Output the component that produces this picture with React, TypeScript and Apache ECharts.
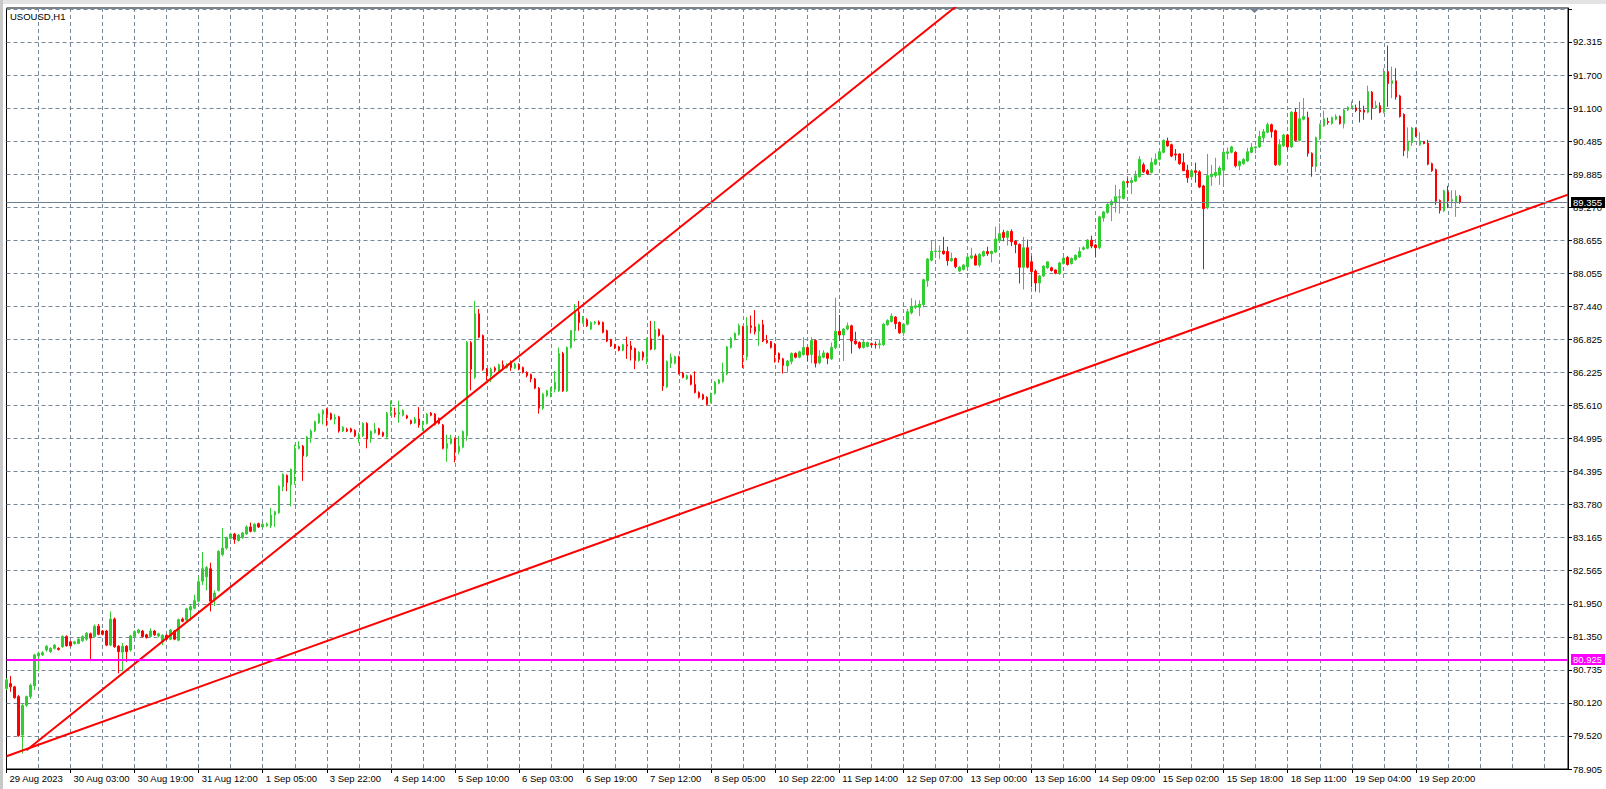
import React, { useEffect, useRef } from "react";
import * as echarts from "echarts";

const SYMBOL_TITLE = "USOUSD,H1";

// x axis: one slot per H1 bar (incl. empty right shift area)
const SLOT_COUNT = 391;
const BARS_PER_LABEL = 16;
const BARS_PER_GRID = 8;
const xTickLabels = [
  "29 Aug 2023", "30 Aug 03:00", "30 Aug 19:00", "31 Aug 12:00", "1 Sep 05:00",
  "3 Sep 22:00", "4 Sep 14:00", "5 Sep 10:00", "6 Sep 03:00", "6 Sep 19:00",
  "7 Sep 12:00", "8 Sep 05:00", "10 Sep 22:00", "11 Sep 14:00", "12 Sep 07:00",
  "13 Sep 00:00", "13 Sep 16:00", "14 Sep 09:00", "15 Sep 02:00", "15 Sep 18:00",
  "18 Sep 11:00", "19 Sep 04:00", "19 Sep 20:00",
];

// y axis
const yTickLabels = [
  "78.905", "79.520", "80.120", "80.735", "81.350", "81.950", "82.565", "83.165",
  "83.780", "84.395", "84.995", "85.610", "86.225", "86.825", "87.440", "88.055",
  "88.655", "89.270", "89.885", "90.485", "91.100", "91.700", "92.315",
];
const Y_MIN = 78.905;
const Y_TOP_TICK = 92.315;
const Y_MAX = 92.942;

// horizontal levels
const supportLevel = 80.925;
const lastPrice = 89.355;

// trend lines: [bar index, price]
const steepTrend = [[5, 79.25], [240, 93.14]];
const shallowTrend = [[0, 79.14], [390, 89.5]];

// candles: [open, close, low, high]
const candles = [
  [80.39,80.55,80.36,80.58],[80.48,80.42,80.33,80.62],[80.42,80.22,80.20,80.44],[80.24,79.52,79.50,80.27],
  [79.53,80.08,79.19,80.10],[80.08,80.24,80.05,80.26],[80.24,80.45,80.20,80.48],[80.44,81.01,80.36,81.03],
  [80.99,81.04,80.71,81.07],[81.01,81.05,80.99,81.08],[81.10,81.17,81.07,81.19],[81.07,81.13,81.05,81.15],
  [81.13,81.19,81.11,81.21],[81.13,81.11,81.09,81.15],[81.16,81.35,81.14,81.37],[81.35,81.18,81.16,81.37],
  [81.25,81.18,81.16,81.27],[81.22,81.25,81.20,81.27],[81.22,81.30,81.21,81.32],[81.27,81.35,81.25,81.37],
  [81.30,81.41,81.27,81.43],[81.40,81.32,80.93,81.42],[81.35,81.54,81.33,81.57],[81.54,81.39,81.37,81.58],
  [81.45,81.39,81.37,81.47],[81.45,81.19,81.17,81.47],[81.19,81.67,81.17,81.81],[81.67,81.16,81.14,81.70],
  [81.17,81.07,80.67,81.19],[81.06,81.17,80.71,81.23],[81.17,81.07,80.88,81.19],[81.10,81.36,81.07,81.38],
  [81.35,81.44,81.33,81.46],[81.42,81.47,81.40,81.49],[81.45,81.35,81.33,81.47],[81.38,81.33,81.31,81.40],
  [81.35,81.45,81.33,81.50],[81.45,81.38,81.36,81.47],[81.36,81.40,81.33,81.42],[81.25,81.37,81.19,81.39],
  [81.37,81.30,81.28,81.39],[81.30,81.47,81.28,81.49],[81.45,81.30,81.28,81.47],[81.28,81.66,81.26,81.68],
  [81.67,81.63,81.61,81.70],[81.65,81.86,81.63,81.88],[81.84,81.90,81.64,81.93],[81.87,82.01,81.85,82.12],
  [82.00,82.36,81.98,82.45],[82.37,82.60,82.30,82.91],[82.45,82.62,82.20,82.65],[82.60,82.00,81.81,82.71],
  [82.03,82.15,81.91,82.20],[82.20,82.92,82.18,82.94],[82.86,82.98,82.83,83.35],[82.98,83.17,82.95,83.19],
  [83.16,83.24,83.14,83.26],[83.24,83.14,83.06,83.26],[83.12,83.22,83.10,83.24],[83.17,83.26,83.15,83.28],
  [83.24,83.37,83.22,83.40],[83.37,83.29,83.27,83.45],[83.29,83.42,83.27,83.44],[83.43,83.37,83.35,83.45],
  [83.37,83.42,83.35,83.44],[83.39,83.43,83.37,83.45],[83.39,83.59,83.35,83.72],[83.59,83.65,83.37,83.67],
  [83.63,84.12,83.61,84.14],[84.11,84.34,84.03,84.36],[84.32,84.19,84.03,84.34],[84.15,84.43,83.75,84.45],
  [84.43,84.82,84.15,84.89],[84.82,84.86,84.80,84.95],[84.86,84.68,84.22,84.88],[84.68,85.03,84.66,85.05],
  [85.02,85.14,84.92,85.17],[85.14,85.31,85.12,85.33],[85.29,85.45,85.27,85.47],[85.45,85.52,85.26,85.54],
  [85.54,85.45,85.23,85.56],[85.46,85.36,85.34,85.48],[85.36,85.39,85.26,85.45],[85.40,85.14,85.11,85.42],
  [85.14,85.21,85.12,85.23],[85.17,85.14,85.12,85.20],[85.18,85.13,85.11,85.20],[85.15,85.05,85.03,85.17],
  [85.03,85.07,84.92,85.11],[85.05,85.28,85.03,85.30],[85.28,84.99,84.82,85.30],[85.00,85.13,84.92,85.15],
  [85.11,85.17,85.09,85.29],[85.18,85.08,85.06,85.20],[85.11,85.05,85.03,85.13],[85.03,85.47,84.99,85.49],
  [85.44,85.48,85.42,85.70],[85.47,85.45,85.39,85.57],[85.45,85.48,85.29,85.70],[85.43,85.52,85.41,85.54],
  [85.42,85.38,85.36,85.44],[85.33,85.28,85.26,85.35],[85.29,85.36,85.27,85.40],[85.36,85.25,85.20,85.58],
  [85.26,85.31,85.14,85.33],[85.28,85.45,85.26,85.47],[85.47,85.43,85.41,85.49],[85.45,85.26,85.24,85.47],
  [85.37,85.28,85.26,85.39],[85.25,84.82,84.80,85.27],[84.82,84.91,84.57,85.07],[84.91,84.99,84.89,85.07],
  [85.00,84.76,84.56,85.02],[84.76,84.86,84.71,85.05],[84.84,85.13,84.82,85.15],[85.05,86.77,84.96,86.80],
  [86.77,86.28,85.89,86.80],[86.13,87.30,86.10,87.54],[87.30,86.87,86.85,87.39],[86.90,86.28,86.25,86.92],
  [86.28,86.16,86.07,86.30],[86.16,86.28,86.04,86.31],[86.30,86.26,86.22,86.33],[86.22,86.36,86.20,86.38],
  [86.36,86.33,86.26,86.44],[86.31,86.37,86.29,86.39],[86.39,86.31,86.25,86.44],[86.30,86.37,86.28,86.40],
  [86.37,86.28,86.26,86.39],[86.31,86.22,86.20,86.33],[86.22,86.16,86.13,86.24],[86.18,86.10,86.04,86.20],
  [86.10,85.93,85.91,86.12],[85.93,85.56,85.46,85.95],[85.56,85.82,85.53,85.84],[85.79,85.88,85.77,85.90],
  [85.87,85.93,85.76,85.95],[85.91,86.04,85.85,86.25],[85.88,86.57,85.86,86.68],[86.57,85.88,85.86,86.60],
  [85.88,86.68,85.86,86.70],[86.68,86.99,86.66,87.00],[86.99,87.33,86.79,87.48],[87.33,87.14,86.99,87.54],
  [87.14,87.24,87.12,87.26],[87.19,87.08,87.06,87.22],[87.02,87.14,87.00,87.16],[87.13,87.15,87.10,87.17],
  [87.15,87.11,87.09,87.18],[87.14,86.96,86.94,87.16],[86.99,86.80,86.78,87.01],[86.82,86.71,86.69,86.84],
  [86.73,86.67,86.65,86.75],[86.69,86.63,86.61,86.71],[86.63,86.73,86.61,86.75],[86.73,86.71,86.47,86.88],
  [86.71,86.64,86.44,86.80],[86.66,86.44,86.28,86.68],[86.44,86.59,86.42,86.61],[86.59,86.50,86.44,86.61],
  [86.50,86.84,86.37,86.86],[86.84,86.65,86.63,87.17],[86.65,87.01,86.63,87.17],[87.01,86.90,86.88,87.03],
  [86.90,85.97,85.88,86.92],[85.95,86.42,85.93,86.44],[86.39,86.50,86.30,86.57],[86.39,86.51,86.37,86.53],
  [86.51,86.20,86.18,86.53],[86.21,86.13,86.11,86.23],[86.10,86.16,86.08,86.18],[86.16,86.00,85.98,86.18],
  [86.00,85.85,85.83,86.24],[85.85,85.76,85.74,85.87],[85.81,85.73,85.71,85.83],[85.76,85.63,85.61,85.78],
  [85.67,85.83,85.65,85.85],[85.83,86.04,85.81,86.06],[86.02,86.08,86.00,86.10],[86.05,86.20,86.03,86.40],
  [86.19,86.69,86.17,86.71],[86.68,86.85,86.66,86.87],[86.84,86.94,86.81,86.96],[86.92,87.08,86.90,87.12],
  [87.06,86.55,86.30,87.08],[86.51,87.08,86.44,87.24],[87.08,87.05,86.94,87.27],[87.06,86.97,86.92,87.37],
  [86.98,87.10,86.71,87.12],[87.10,86.80,86.78,87.19],[86.81,86.77,86.75,86.91],[86.79,86.68,86.66,86.80],
  [86.74,86.55,86.40,86.76],[86.57,86.46,86.40,86.59],[86.47,86.35,86.20,86.49],[86.34,86.43,86.22,86.45],
  [86.42,86.57,86.37,86.59],[86.57,86.50,86.48,86.59],[86.50,86.60,86.48,86.62],[86.55,86.68,86.53,86.87],
  [86.68,86.54,86.43,86.70],[86.55,86.81,86.39,86.87],[86.81,86.39,86.31,86.83],[86.40,86.52,86.37,86.63],
  [86.50,86.58,86.48,86.63],[86.57,86.48,86.37,86.59],[86.47,86.68,86.45,86.77],[86.68,86.98,86.65,87.60],
  [86.98,86.91,86.80,87.28],[86.91,87.02,86.43,87.04],[87.02,87.08,87.00,87.14],[87.08,86.80,86.57,87.10],
  [86.80,86.75,86.73,86.97],[86.77,86.68,86.65,86.79],[86.68,86.78,86.66,86.83],[86.70,86.77,86.68,86.79],
  [86.75,86.73,86.68,86.77],[86.74,86.73,86.66,86.79],[86.73,86.75,86.66,86.83],[86.73,87.11,86.71,87.13],
  [87.10,87.18,87.08,87.20],[87.16,87.26,87.14,87.31],[87.24,87.12,87.02,87.26],[87.14,86.95,86.93,87.16],
  [86.95,87.11,86.89,87.13],[87.11,87.34,87.09,87.39],[87.32,87.43,87.29,87.59],[87.42,87.45,87.39,87.55],
  [87.42,87.48,87.26,87.55],[87.47,87.93,87.42,87.95],[87.91,88.31,87.80,88.33],[88.29,88.45,88.27,88.66],
  [88.45,88.46,88.33,88.66],[88.45,88.46,88.31,88.56],[88.46,88.41,88.39,88.72],[88.45,88.28,88.19,88.54],
  [88.28,88.32,88.26,88.43],[88.32,88.17,88.14,88.34],[88.09,88.16,88.07,88.18],[88.12,88.20,88.10,88.22],
  [88.17,88.35,88.15,88.37],[88.33,88.37,88.31,88.52],[88.37,88.20,88.19,88.41],[88.20,88.40,88.16,88.42],
  [88.37,88.45,88.35,88.47],[88.45,88.41,88.37,88.54],[88.41,88.45,88.25,88.47],[88.44,88.68,88.42,88.91],
  [88.65,88.78,88.64,88.97],[88.80,88.71,88.64,88.85],[88.71,88.82,88.56,88.84],[88.82,88.63,88.55,88.86],
  [88.64,88.58,88.42,88.66],[88.58,88.16,87.86,88.60],[88.16,88.52,87.75,88.72],[88.52,88.16,88.14,88.67],
  [88.26,88.08,87.79,88.37],[88.09,87.87,87.71,88.12],[87.87,88.00,87.69,88.02],[88.00,88.18,87.98,88.20],
  [88.15,88.26,88.13,88.27],[88.15,88.10,88.08,88.17],[88.11,88.05,88.03,88.12],[88.04,88.24,88.02,88.26],
  [88.23,88.33,88.21,88.35],[88.34,88.21,88.19,88.37],[88.23,88.32,88.21,88.34],[88.30,88.38,88.28,88.40],
  [88.35,88.45,88.33,88.53],[88.49,88.52,88.47,88.55],[88.51,88.66,88.49,88.68],[88.66,88.55,88.51,88.74],
  [88.57,88.52,88.34,88.59],[88.52,89.09,88.49,89.11],[89.07,89.18,89.00,89.20],[89.17,89.32,89.15,89.34],
  [89.31,89.37,89.01,89.41],[89.35,89.46,89.17,89.68],[89.45,89.46,89.15,89.60],[89.43,89.74,89.41,89.76],
  [89.74,89.72,89.63,89.81],[89.72,89.76,89.51,89.82],[89.75,89.85,89.73,89.94],[89.83,90.15,89.81,90.21],
  [90.05,89.92,89.90,90.09],[89.94,89.88,89.86,89.97],[89.91,90.09,89.89,90.18],[90.06,90.15,90.04,90.26],
  [90.15,90.29,90.13,90.31],[90.28,90.50,90.26,90.52],[90.49,90.40,90.38,90.55],[90.42,90.21,90.19,90.44],
  [90.25,90.23,90.13,90.34],[90.25,90.07,90.05,90.26],[90.09,89.94,89.94,90.26],[89.95,89.81,89.72,90.05],
  [89.83,89.94,89.81,89.96],[89.94,89.91,89.72,90.09],[89.92,89.64,89.62,89.95],[89.66,89.24,88.12,89.68],
  [89.26,89.85,89.23,90.25],[89.83,89.88,89.66,90.05],[89.85,89.91,89.81,90.18],[89.86,89.99,89.68,90.03],
  [89.95,90.28,89.70,90.30],[90.26,90.29,90.15,90.37],[90.28,90.38,90.26,90.40],[90.28,90.03,90.00,90.30],
  [90.03,90.11,89.95,90.13],[90.07,90.15,90.05,90.17],[90.12,90.29,90.10,90.36],[90.28,90.37,90.26,90.45],
  [90.36,90.38,90.26,90.40],[90.38,90.57,90.36,90.68],[90.55,90.66,90.46,90.71],[90.65,90.79,90.63,90.83],
  [90.79,90.66,90.55,90.81],[90.68,90.05,90.03,90.70],[90.05,90.42,90.03,90.52],[90.40,90.60,90.38,90.62],
  [90.60,90.38,90.32,90.62],[90.38,91.02,90.36,91.04],[91.02,90.50,90.48,91.10],[90.50,90.90,90.48,91.21],
  [90.89,90.94,90.87,91.28],[90.92,90.26,90.20,91.03],[90.26,90.02,89.83,90.28],[90.02,90.55,89.92,90.57],
  [90.53,90.79,90.51,90.81],[90.77,90.90,90.75,91.05],[90.85,90.83,90.79,90.92],[90.81,90.92,90.79,90.94],
  [90.89,90.94,90.87,90.98],[90.94,90.81,90.79,90.96],[90.81,91.06,90.72,91.08],[91.06,91.11,91.04,91.13],
  [91.10,91.14,91.08,91.22],[91.10,91.05,91.02,91.16],[91.06,91.03,90.83,91.23],[91.06,91.02,90.88,91.14],
  [91.02,91.40,91.00,91.51],[91.39,91.10,90.88,91.41],[91.10,91.14,91.08,91.23],[91.14,91.02,91.00,91.20],
  [91.02,91.75,91.00,91.83],[91.77,91.55,91.12,92.25],[91.55,91.60,91.28,91.86],[91.60,91.30,91.25,91.83],
  [91.32,90.94,90.92,91.34],[90.98,90.31,90.21,91.00],[90.31,90.49,90.17,90.74],[90.46,90.73,90.40,90.75],
  [90.71,90.58,90.56,90.74],[90.42,90.49,90.40,90.65],[90.48,90.44,90.43,90.49],[90.45,90.06,90.04,90.51],
  [90.07,89.94,89.92,90.09],[89.96,89.38,89.31,89.98],[89.39,89.21,89.15,89.41],[89.20,89.57,89.18,89.59],
  [89.55,89.38,89.25,89.66],[89.38,89.41,89.25,89.58],[89.35,89.47,89.09,89.58],[89.47,89.355,89.33,89.49],
];

const FONT = "Liberation Sans";
const GRID_COLOR = "#778899";
const BULL = "#32CD32";
const BEAR = "#FF0000";

export default function App() {
  const ref = useRef<HTMLDivElement>(null);

  useEffect(() => {
    if (!ref.current) return;
    const chart = echarts.init(ref.current, null, { renderer: "svg" });
    const yInterval = (Y_TOP_TICK - Y_MIN) / (yTickLabels.length - 1);
    const categories = Array.from({ length: SLOT_COUNT }, (_, i) => String(i));
    const labelIdx = (i: number) =>
      i % BARS_PER_LABEL === 0 && i / BARS_PER_LABEL < xTickLabels.length;

    chart.setOption({
      animation: false,
      backgroundColor: "#ffffff",
      textStyle: { fontFamily: FONT },
      grid: {
        left: 6.5,
        right: 38,
        top: 8,
        bottom: 20,
        show: true,
        borderColor: "#000",
        borderWidth: 1,
        backgroundColor: "#fff",
      },
      xAxis: {
        type: "category",
        data: categories,
        boundaryGap: false,
        axisLine: { show: true, lineStyle: { color: "#000", width: 1 } },
        axisTick: {
          show: true,
          length: 4,
          interval: (i: number) => labelIdx(i),
          lineStyle: { color: "#000" },
        },
        axisLabel: {
          interval: (i: number) => labelIdx(i),
          formatter: (_v: string, i: number) => xTickLabels[i / BARS_PER_LABEL] ?? "",
          align: "left",
          padding: [0, 0, 0, 3],
          margin: 4,
          color: "#000",
          fontSize: 9.5,
          fontFamily: FONT,
          hideOverlap: false,
        },
        splitLine: {
          show: true,
          interval: (i: number) => i > 0 && i % BARS_PER_GRID === 0,
          lineStyle: { color: GRID_COLOR, type: [4, 3], width: 1 },
        },
      },
      yAxis: {
        type: "value",
        position: "right",
        min: Y_MIN,
        max: Y_MAX,
        interval: yInterval,
        scale: true,
        axisLine: { show: true, lineStyle: { color: "#000", width: 1 } },
        axisTick: { show: true, length: 4, lineStyle: { color: "#000" } },
        axisLabel: {
          margin: 5,
          color: "#000",
          fontSize: 9.5,
          fontFamily: FONT,
          showMaxLabel: false,
          formatter: (v: number) => {
            const k = Math.round((v - Y_MIN) / yInterval);
            if (k < 0 || k >= yTickLabels.length) return "";
            if (Math.abs(Y_MIN + k * yInterval - v) > 1e-3) return "";
            return yTickLabels[k];
          },
        },
        splitLine: {
          show: true,
          lineStyle: { color: GRID_COLOR, type: [4, 3], width: 1 },
        },
      },
      graphic: [
        { type: "rect", shape: { x: 0, y: 0, width: 1606, height: 4 }, style: { fill: "#e3e3e3" }, silent: true },
        { type: "rect", shape: { x: 0, y: 0, width: 3, height: 789 }, style: { fill: "#c8c8c8" }, silent: true },
        {
          type: "polygon",
          shape: { points: [[1250, 9], [1259, 9], [1254.5, 13]] },
          style: { fill: "#708090" },
          silent: true,
        },
        {
          type: "text",
          x: 10,
          y: 11,
          style: { text: SYMBOL_TITLE, fill: "#000", font: `9.5px "${FONT}"` },
          silent: true,
          z: 100,
        },
      ],
      series: [
        {
          type: "candlestick",
          data: candles,
          barWidth: 2,
          itemStyle: {
            color: BULL,
            color0: BEAR,
            borderColor: BULL,
            borderColor0: BEAR,
            borderWidth: 1,
          },
          z: 2,
          markLine: {
            silent: true,
            symbol: ["none", "none"],
            precision: 3,
            data: [
              {
                yAxis: supportLevel,
                lineStyle: { color: "#FF00FF", width: 2, type: "solid" },
                label: {
                  show: true,
                  position: "end",
                  distance: 3,
                  formatter: supportLevel.toFixed(3),
                  color: "#fff",
                  backgroundColor: "#FF00FF",
                  padding: [1, 3, 0, 2],
                  fontSize: 9.5,
                  fontFamily: FONT,
                },
              },
              {
                yAxis: lastPrice,
                lineStyle: { color: "#708090", width: 1, type: "solid" },
                label: {
                  show: true,
                  position: "end",
                  distance: 3,
                  formatter: lastPrice.toFixed(3),
                  color: "#fff",
                  backgroundColor: "#000",
                  padding: [1, 3, 0, 2],
                  fontSize: 9.5,
                  fontFamily: FONT,
                },
              },
            ],
          },
        },
        {
          type: "line",
          data: steepTrend,
          showSymbol: false,
          symbol: "none",
          clip: true,
          silent: true,
          lineStyle: { color: "#FF0000", width: 2 },
          z: 3,
        },
        {
          type: "line",
          data: shallowTrend,
          showSymbol: false,
          symbol: "none",
          clip: true,
          silent: true,
          lineStyle: { color: "#FF0000", width: 2 },
          z: 3,
        },
      ],
    });
    return () => chart.dispose();
  }, []);

  return (
    <div
      ref={ref}
      style={{ position: "absolute", left: 0, top: 0, width: 1606, height: 789 }}
    />
  );
}
